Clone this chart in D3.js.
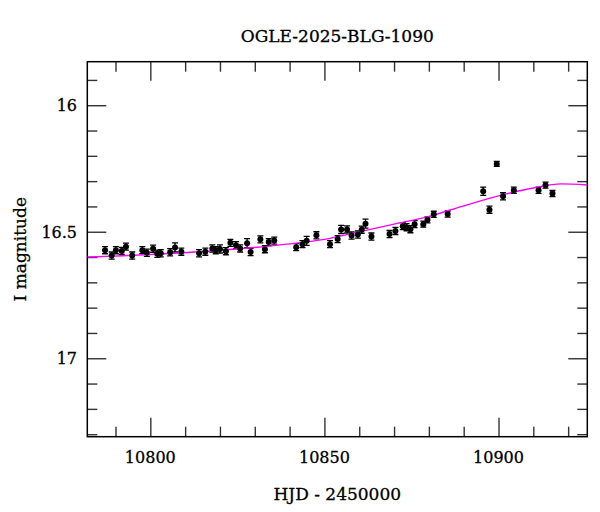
<!DOCTYPE html>
<html>
<head>
<meta charset="utf-8">
<script src="https://cdn.jsdelivr.net/npm/d3@7"></script>
<style>
  body { margin: 0; background: #fff; }
  svg text { font-family: "DejaVu Serif", serif; fill: #000; }
</style>
</head>
<body>
<div id="chart"></div>
<script>
// photometry (HJD - 2450000, I mag, error)
const hjd = [10787.0, 10788.9, 10790.1, 10791.8, 10793.0, 10794.8, 10797.7, 10799.0, 10800.8, 10802.0,
  10803.0, 10805.7, 10807.1, 10808.9, 10814.0, 10815.8, 10817.8, 10818.8, 10820.0, 10821.7,
  10823.0, 10824.6, 10825.8, 10827.8, 10828.8, 10831.6, 10832.9, 10834.0, 10835.6, 10841.9,
  10843.7, 10844.9, 10847.7, 10851.6, 10853.8, 10854.8, 10856.5, 10857.8, 10859.6, 10860.7,
  10861.8, 10863.5, 10868.7, 10870.4, 10872.5, 10873.6, 10874.7, 10875.9, 10878.4, 10879.6,
  10881.4, 10885.4, 10895.6, 10897.4, 10899.5, 10901.3, 10904.4, 10911.5, 10913.5, 10915.5];
const mag = [16.573, 16.594, 16.573, 16.576, 16.559, 16.594, 16.573, 16.583, 16.567, 16.587,
  16.585, 16.581, 16.562, 16.579, 16.585, 16.579, 16.566, 16.573, 16.568, 16.577,
  16.544, 16.553, 16.566, 16.545, 16.580, 16.530, 16.569, 16.541, 16.535, 16.561,
  16.549, 16.536, 16.514, 16.549, 16.529, 16.491, 16.491, 16.515, 16.511, 16.492,
  16.468, 16.519, 16.509, 16.497, 16.478, 16.482, 16.490, 16.470, 16.470, 16.453,
  16.431, 16.430, 16.340, 16.413, 16.232, 16.360, 16.336, 16.336, 16.316, 16.349];
const err = [0.014, 0.014, 0.014, 0.014, 0.014, 0.014, 0.014, 0.014, 0.014, 0.014,
  0.014, 0.014, 0.018, 0.014, 0.014, 0.014, 0.014, 0.014, 0.016, 0.014,
  0.014, 0.014, 0.014, 0.018, 0.014, 0.014, 0.014, 0.014, 0.014, 0.014,
  0.014, 0.018, 0.014, 0.014, 0.014, 0.016, 0.014, 0.014, 0.014, 0.014,
  0.018, 0.014, 0.014, 0.014, 0.014, 0.014, 0.014, 0.014, 0.012, 0.012,
  0.012, 0.012, 0.016, 0.014, 0.010, 0.014, 0.012, 0.012, 0.012, 0.012];

// model curve
const modelT = [10781.9, 10800, 10820, 10840, 10850, 10860, 10870, 10880, 10890, 10900, 10910, 10918, 10925.5];
const modelM = [16.600, 16.590, 16.573, 16.548, 16.530, 16.500, 16.470, 16.439, 16.398, 16.358, 16.327, 16.311, 16.315];

const xMajor = [10800, 10850, 10900];
const xMinor = [10790, 10810, 10820, 10830, 10840, 10860, 10870, 10880, 10890, 10910, 10920];
const yMajor = [16, 16.5, 17];
const yMinor = [15.9, 16.1, 16.2, 16.3, 16.4, 16.6, 16.7, 16.8, 16.9, 17.1, 17.2, 17.3];

const W = 600, H = 512;
const plot = { left: 87.3, right: 587.3, top: 61.7, bottom: 436.7 };

const svg = d3.select("#chart").append("svg")
  .attr("width", W).attr("height", H);

const xScale = d3.scaleLinear().domain([10781.9, 10925.5]).range([plot.left, plot.right]);
const yScale = d3.scaleLinear().domain([15.828, 17.31]).range([plot.top, plot.bottom]);

const plotH = plot.bottom - plot.top, plotW = plot.right - plot.left;

// ticks on all four sides, pointing inward
function drawTicks(axisFn, scale, values, size, transform) {
  svg.append("g")
    .attr("transform", transform)
    .call(axisFn(scale).tickValues(values).tickSize(size).tickFormat(""))
    .call((g) => g.select(".domain").remove())
    .call((g) => g.selectAll("line").attr("stroke", "#333").attr("stroke-width", 1.4));
}
drawTicks(d3.axisBottom, xScale, xMajor, -19, `translate(0,${plot.bottom})`);
drawTicks(d3.axisBottom, xScale, xMinor, -10, `translate(0,${plot.bottom})`);
drawTicks(d3.axisTop, xScale, xMajor, -19, `translate(0,${plot.top})`);
drawTicks(d3.axisTop, xScale, xMinor, -10, `translate(0,${plot.top})`);
drawTicks(d3.axisLeft, yScale, yMajor, -19, `translate(${plot.left},0)`);
drawTicks(d3.axisLeft, yScale, yMinor, -10, `translate(${plot.left},0)`);
drawTicks(d3.axisRight, yScale, yMajor, -19, `translate(${plot.right},0)`);
drawTicks(d3.axisRight, yScale, yMinor, -10, `translate(${plot.right},0)`);

// tick labels
svg.append("g").selectAll("text").data(xMajor).enter().append("text")
  .attr("x", (d) => xScale(d)).attr("y", 463)
  .attr("text-anchor", "middle").attr("font-size", 16)
  .attr("stroke", "#000").attr("stroke-width", 0.3)
  .text((d) => d);

svg.append("g").selectAll("text").data(yMajor).enter().append("text")
  .attr("x", 77).attr("y", (d) => yScale(d)).attr("dy", "0.36em")
  .attr("text-anchor", "end").attr("font-size", 16)
  .attr("stroke", "#000").attr("stroke-width", 0.3)
  .text((d) => d);

// frame
svg.append("rect")
  .attr("x", plot.left).attr("y", plot.top)
  .attr("width", plotW).attr("height", plotH)
  .attr("fill", "none").attr("stroke", "#000").attr("stroke-width", 1.5);

svg.append("clipPath").attr("id", "clip")
  .append("rect").attr("x", plot.left).attr("y", plot.top).attr("width", plotW).attr("height", plotH);

const data = hjd.map((t, i) => ({ t: t, m: mag[i], e: err[i] }));

// error bars
const bars = svg.append("g").attr("clip-path", "url(#clip)")
  .attr("stroke", "#000").attr("stroke-width", 1.3);
bars.selectAll(".eb").data(data).enter().append("path")
  .attr("fill", "none")
  .attr("d", (d) => {
    const x = xScale(d.t), y0 = yScale(d.m - d.e), y1 = yScale(d.m + d.e);
    return `M${x},${y0}V${y1}M${x - 3},${y0}H${x + 3}M${x - 3},${y1}H${x + 3}`;
  });

// model
const line = d3.line()
  .x((d, i) => xScale(modelT[i]))
  .y((d) => yScale(d))
  .curve(d3.curveMonotoneX);
svg.append("path")
  .attr("clip-path", "url(#clip)")
  .attr("d", line(modelM))
  .attr("fill", "none").attr("stroke", "#ff00ff").attr("stroke-width", 1.4);

// points
svg.append("g").attr("clip-path", "url(#clip)")
  .selectAll("circle").data(data).enter().append("circle")
  .attr("cx", (d) => xScale(d.t)).attr("cy", (d) => yScale(d.m))
  .attr("r", 3).attr("fill", "#000");

// titles
svg.append("text")
  .attr("x", (plot.left + plot.right) / 2).attr("y", 42)
  .attr("text-anchor", "middle").attr("font-size", 17)
  .attr("stroke", "#000").attr("stroke-width", 0.3)
  .text("OGLE-2025-BLG-1090");

svg.append("text")
  .attr("x", (plot.left + plot.right) / 2).attr("y", 500)
  .attr("text-anchor", "middle").attr("font-size", 17)
  .attr("stroke", "#000").attr("stroke-width", 0.3)
  .text("HJD - 2450000");

svg.append("text")
  .attr("transform", `translate(26,${(plot.top + plot.bottom) / 2}) rotate(-90)`)
  .attr("text-anchor", "middle").attr("font-size", 17)
  .attr("stroke", "#000").attr("stroke-width", 0.3)
  .text("I magnitude");
</script>
</body>
</html>
